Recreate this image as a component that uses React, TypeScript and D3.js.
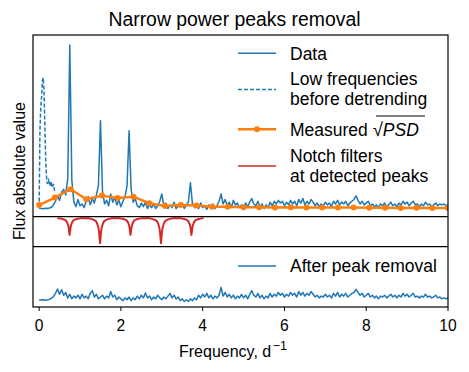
import React from 'react';
import * as d3 from 'd3';

const W = 469;
const H = 372;

// Top panel data, sampled every 0.05 d^-1 from 0 to 10
const freqStep = 0.05;
const dataTop = [
  4.6, 4.5, 4.4, 4.6, 4.5, 4.8, 5.2, 6.5, 8.5, 11.5,
  9.0, 13.5, 15.0, 12.0, 21.0, 94.5, 20.0, 8.0, 5.5, 9.5,
  6.0, 7.0, 5.0, 8.5, 11.0, 6.5, 10.0, 7.5, 12.0, 17.0,
  52.8, 14.0, 7.0, 9.0, 6.0, 12.5, 8.0, 10.5, 6.5, 9.0,
  5.5, 8.5, 11.0, 17.0, 47.3, 15.0, 8.0, 10.0, 6.0, 5.0,
  7.5, 5.5, 8.0, 4.5, 6.5, 5.0, 7.0, 4.5, 6.0, 8.5,
  12.5, 6.0, 7.5, 4.5, 6.5, 5.0, 8.0, 4.5, 6.0, 5.5,
  7.5, 4.5, 6.5, 8.0, 18.7, 7.0, 5.0, 6.5, 4.5, 7.5,
  5.0, 6.0, 4.0, 6.5, 5.0, 7.0, 4.5, 6.0, 8.5, 12.5,
  7.0, 9.5, 6.0, 8.0, 5.0, 9.0, 6.5, 7.5, 5.0, 6.5,
  4.5, 7.5, 5.5, 8.0, 10.0, 7.0, 6.0, 8.5, 5.5, 7.0,
  4.5, 6.5, 5.0, 8.0, 6.0, 8.5, 7.0, 9.0, 7.5, 8.5,
  6.0, 8.0, 6.5, 9.0, 7.0, 8.5, 6.0, 9.5, 7.5, 10.0,
  6.5, 8.5, 7.0, 9.5, 8.0, 6.0, 7.5, 5.5, 7.0, 6.0,
  8.0, 6.5, 7.5, 5.5, 8.5, 7.0, 9.0, 6.5, 8.0, 7.0,
  8.5, 6.0, 7.5, 8.5, 9.5, 11.5, 9.0, 7.0, 8.5, 6.5,
  7.5, 8.5, 6.0, 7.0, 5.5, 6.5, 5.0, 7.0, 6.0, 7.5,
  5.5, 6.5, 8.0, 6.0, 7.0, 5.5, 7.5, 6.5, 8.5, 7.0,
  8.0, 6.0, 7.5, 8.5, 6.5, 7.0, 5.5, 7.0, 6.0, 8.0,
  6.5, 7.0, 5.5, 6.5, 7.5, 6.0, 7.0, 6.5, 7.0, 6.0,
  6.5,
];

// Low frequencies before detrending (dashed)
const lowFreq = [0, 0.02, 0.04, 0.06, 0.08, 0.1, 0.12, 0.14, 0.16, 0.18, 0.2, 0.23, 0.26, 0.29, 0.32, 0.35, 0.38];
const lowVal = [5.0, 48.0, 60.0, 66.0, 75.0, 76.5, 69.0, 50.0, 32.0, 22.0, 18.0, 20.0, 17.0, 19.5, 16.0, 18.0, 14.0];

// Measured sqrt(PSD)
const psdFreq = [
  0, 0.385, 0.769, 1.154, 1.538, 1.923, 2.308, 2.692, 3.077, 3.462,
  3.846, 4.231, 4.615, 5.0, 5.385, 5.769, 6.154, 6.538, 6.923, 7.308,
  7.692, 8.077, 8.462, 8.846, 9.231, 9.615, 10.0,
];
const psdVal = [
  6.4, 10.5, 15.1, 9.6, 11.6, 10.3, 11.0, 7.4, 5.9, 6.4,
  6.1, 5.5, 5.5, 5.2, 5.2, 5.1, 5.2, 5.0, 5.1, 5.0,
  5.0, 4.9, 4.9, 4.8, 4.9, 4.8, 4.8,
];

// Notch filters
const notchCenters = [0.745, 1.49, 2.235, 2.98, 3.725];
const notchDepths = [0.41, 0.12, 0.41, 0.12, 0.41];
const notchOffsets = [-0.3, -0.22, -0.15, -0.1, -0.065, -0.04, -0.022, -0.01, 0, 0.01, 0.022, 0.04, 0.065, 0.1, 0.15, 0.22, 0.3];
const notchShape = [0, 0.03, 0.07, 0.12, 0.24, 0.38, 0.58, 0.82, 1, 0.82, 0.58, 0.38, 0.24, 0.12, 0.07, 0.03, 0];

// After peak removal
const dataBottom = [
  3.9, 3.8, 4.0, 3.7, 3.9, 4.2, 4.8, 5.7, 7.5, 9.9,
  7.0, 9.5, 6.5, 8.0, 5.0, 7.0, 4.5, 6.0, 5.0, 6.5,
  4.5, 7.0, 5.0, 6.0, 4.5, 7.5, 9.0, 5.5, 7.0, 4.5,
  5.5, 6.5, 4.5, 6.0, 5.0, 8.5, 5.5, 6.5, 4.0, 5.5,
  4.5, 3.5, 5.0, 4.0, 5.5, 3.5, 5.0, 4.0, 6.0, 4.5,
  6.5, 5.0, 7.7, 5.0, 6.0, 4.0, 5.5, 4.5, 6.5, 5.0,
  4.0, 5.5, 4.5, 6.0, 7.5, 5.0, 6.5, 4.5, 5.5, 3.5,
  4.5, 3.0, 4.0, 3.0, 4.5, 3.5, 5.0, 4.0, 6.5, 5.0,
  7.0, 5.5, 7.5, 5.0, 6.5, 4.5, 6.0, 5.0, 6.5, 10.8,
  6.0, 8.0, 5.5, 7.0, 5.0, 6.5, 4.5, 6.0, 5.0, 7.0,
  5.0, 6.5, 4.5, 7.0, 9.0, 6.5, 5.5, 7.5, 5.0, 6.5,
  4.5, 6.0, 5.0, 7.5, 5.5, 7.0, 6.0, 8.0, 6.5, 7.5,
  5.5, 7.0, 6.0, 8.0, 6.5, 7.5, 5.5, 8.5, 6.5, 8.0,
  6.0, 7.5, 6.5, 8.5, 7.0, 5.5, 6.5, 5.0, 6.0, 5.5,
  7.0, 5.5, 6.5, 5.0, 7.5, 6.0, 8.0, 5.5, 7.0, 6.0,
  7.5, 5.5, 6.5, 7.5, 8.0, 9.7, 8.0, 6.5, 7.5, 5.5,
  6.5, 7.5, 5.5, 6.5, 5.0, 6.0, 4.5, 6.0, 5.5, 6.5,
  5.0, 6.0, 7.0, 5.5, 6.5, 5.0, 6.5, 5.5, 7.5, 6.0,
  7.0, 5.5, 6.5, 7.5, 5.5, 6.0, 5.0, 6.0, 5.5, 7.0,
  5.5, 6.0, 5.0, 5.5, 6.5, 5.0, 5.5, 4.5, 5.0, 4.5,
  5.0,
];

const xTicks = [0, 2, 4, 6, 8, 10];

const BLUE = '#1f77b4';
const ORANGE = '#ff7f0e';
const RED = '#d62728';
const FONT = '"Liberation Sans", Arial, Helvetica, sans-serif';

export default function App() {
  const left = 33;
  const right = 448;
  const top = 35;
  const sep1 = 216.7;
  const sep2 = 246.7;
  const bottom = 307;

  const x = d3.scaleLinear().domain([-0.15, 10]).range([left, right]);
  const yTop = d3.scaleLinear().domain([0, 100]).range([sep1, top]);
  const yMid = d3.scaleLinear().domain([0, 1.05]).range([sep2, sep1]);
  const yBot = d3.scaleLinear().domain([0, 33.2]).range([bottom, sep2]);

  const topPts: [number, number][] = dataTop.map((v, i) => [i * freqStep, v]);
  const botPts: [number, number][] = dataBottom.map((v, i) => [i * freqStep, v]);
  const lowPts: [number, number][] = lowFreq.map((f, i) => [f, lowVal[i]]);
  const psdPts: [number, number][] = psdFreq.map((f, i) => [f, psdVal[i]]);
  const notchPts: [number, number][] = [];
  notchCenters.forEach((c, k) => {
    notchOffsets.forEach((o, j) => {
      notchPts.push([c + o, 1 - (1 - notchDepths[k]) * notchShape[j]]);
    });
  });

  const lineTop = d3.line<[number, number]>().x((d) => x(d[0])).y((d) => yTop(d[1]));
  const lineMid = d3.line<[number, number]>().x((d) => x(d[0])).y((d) => yMid(d[1]));
  const lineBot = d3.line<[number, number]>().x((d) => x(d[0])).y((d) => yBot(d[1]));

  const legX1 = 238;
  const legX2 = 276;
  const legTX = 290;
  const fs = 17.5;

  return (
    <svg width={W} height={H} style={{ display: 'block', position: 'absolute', left: 0, top: 0 }} fontFamily={FONT}>
      <defs>
        <clipPath id="clipTop"><rect x={left} y={top} width={right - left} height={sep1 - top} /></clipPath>
        <clipPath id="clipMid"><rect x={left} y={sep1} width={right - left} height={sep2 - sep1} /></clipPath>
        <clipPath id="clipBot"><rect x={left} y={sep2} width={right - left} height={bottom - sep2} /></clipPath>
      </defs>
      <rect x={0} y={0} width={W} height={H} fill="#fff" />

      {/* title */}
      <text x={234.5} y={26} textAnchor="middle" fontSize={19.4} fill="#000">Narrow power peaks removal</text>

      {/* top panel */}
      <g clipPath="url(#clipTop)">
        <path d={lineTop(lowPts) || ''} fill="none" stroke={BLUE} strokeWidth={1.5} strokeDasharray="4,2" />
        <path d={lineTop(topPts) || ''} fill="none" stroke={BLUE} strokeWidth={1.5} strokeLinejoin="round" />
        <path d={lineTop(psdPts) || ''} fill="none" stroke={ORANGE} strokeWidth={2.5} strokeLinejoin="round" />
        {psdPts.map((d, i) => (
          <circle key={i} cx={x(d[0])} cy={yTop(d[1])} r={3} fill={ORANGE} />
        ))}
      </g>

      {/* middle panel */}
      <g clipPath="url(#clipMid)">
        <path d={lineMid(notchPts) || ''} fill="none" stroke={RED} strokeWidth={2} strokeLinejoin="round" />
      </g>

      {/* bottom panel */}
      <g clipPath="url(#clipBot)">
        <path d={lineBot(botPts) || ''} fill="none" stroke={BLUE} strokeWidth={1.5} strokeLinejoin="round" />
      </g>

      {/* frames */}
      <rect x={left} y={top} width={right - left} height={bottom - top} fill="none" stroke="#000" strokeWidth={1.2} />
      <line x1={left} x2={right} y1={sep1} y2={sep1} stroke="#000" strokeWidth={1.2} />
      <line x1={left} x2={right} y1={sep2} y2={sep2} stroke="#000" strokeWidth={1.2} />

      {/* x axis */}
      {xTicks.map((t) => (
        <g key={t}>
          <line x1={x(t)} x2={x(t)} y1={bottom} y2={bottom + 4} stroke="#000" strokeWidth={1} />
          <text x={x(t)} y={331} textAnchor="middle" fontSize={15.6} fill="#000">{t}</text>
        </g>
      ))}
      <text x={179} y={357} textAnchor="start" fontSize={16} fill="#000">
        Frequency, d<tspan dx={1.5} dy={-7} fontSize={12.5}>−1</tspan>
      </text>

      {/* y label */}
      <text transform={`translate(19,${(top + bottom) / 2}) rotate(-90)`} textAnchor="middle" dominantBaseline="central" fontSize={16} fill="#000">Flux absolute value</text>

      {/* top legend */}
      <line x1={legX1} x2={legX2} y1={53.3} y2={53.3} stroke={BLUE} strokeWidth={1.5} />
      <text x={legTX} y={59.5} fontSize={fs} fill="#000">Data</text>

      <line x1={legX1} x2={legX2} y1={89.5} y2={89.5} stroke={BLUE} strokeWidth={1.5} strokeDasharray="4,2" />
      <text x={legTX} y={85} fontSize={fs} fill="#000">Low frequencies</text>
      <text x={legTX} y={105} fontSize={fs} fill="#000">before detrending</text>

      <line x1={legX1} x2={legX2} y1={129.3} y2={129.3} stroke={ORANGE} strokeWidth={2.5} />
      <circle cx={(legX1 + legX2) / 2} cy={129.3} r={3} fill={ORANGE} />
      <text x={legTX} y={135.5} fontSize={fs} fill="#000">
        Measured <tspan fontSize={fs + 1}>√</tspan><tspan fontStyle="italic">PSD</tspan>
      </text>
      <line x1={376} x2={425} y1={116} y2={116} stroke="#000" strokeWidth={1} />

      <line x1={legX1} x2={legX2} y1={166} y2={166} stroke={RED} strokeWidth={1.5} />
      <text x={legTX} y={162} fontSize={fs} fill="#000">Notch filters</text>
      <text x={legTX} y={182} fontSize={fs} fill="#000">at detected peaks</text>

      {/* bottom legend */}
      <line x1={legX1} x2={legX2} y1={266} y2={266} stroke={BLUE} strokeWidth={1.5} />
      <text x={legTX} y={272} fontSize={fs} fill="#000">After peak removal</text>
    </svg>
  );
}
